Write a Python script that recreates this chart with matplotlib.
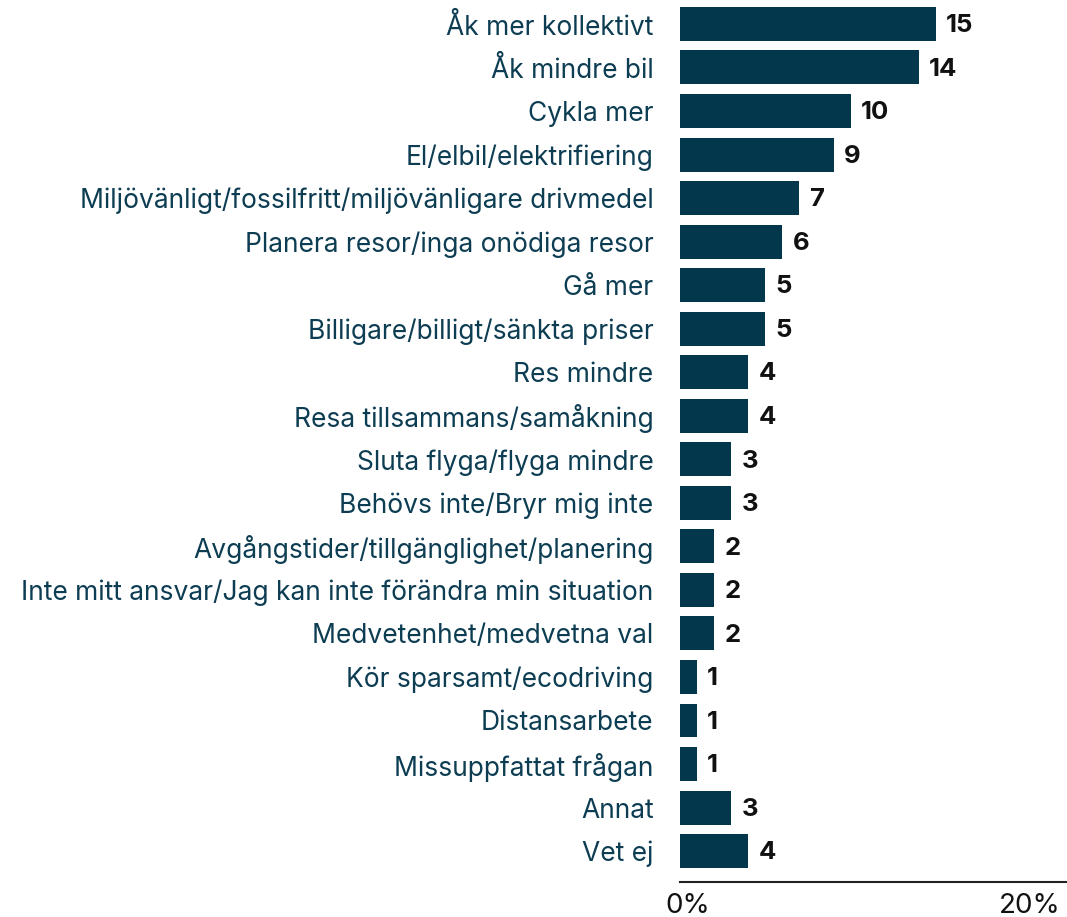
import matplotlib
matplotlib.use("Agg")
import matplotlib.pyplot as plt
from matplotlib.transforms import ScaledTranslation

categories = [
    "Åk mer kollektivt",
    "Åk mindre bil",
    "Cykla mer",
    "El/elbil/elektrifiering",
    "Miljövänligt/fossilfritt/miljövänligare drivmedel",
    "Planera resor/inga onödiga resor",
    "Gå mer",
    "Billigare/billigt/sänkta priser",
    "Res mindre",
    "Resa tillsammans/samåkning",
    "Sluta flyga/flyga mindre",
    "Behövs inte/Bryr mig inte",
    "Avgångstider/tillgänglighet/planering",
    "Inte mitt ansvar/Jag kan inte förändra min situation",
    "Medvetenhet/medvetna val",
    "Kör sparsamt/ecodriving",
    "Distansarbete",
    "Missuppfattat frågan",
    "Annat",
    "Vet ej",
]
values = [15, 14, 10, 9, 7, 6, 5, 5, 4, 4, 3, 3, 2, 2, 2, 1, 1, 1, 3, 4]
tick_values = [0, 20]
tick_labels = ["0%", "20%"]

BAR = "#03384c"
TEXT = "#0d3d52"

plt.rcParams["font.family"] = ["Inter", "DejaVu Sans"]

fig = plt.figure(figsize=(10.67, 9.17), dpi=100)
ax = fig.add_axes([680 / 1067, 35 / 917, 387 / 1067, 882 / 917])

ypos = list(range(len(categories)))
ax.barh(ypos, values, height=0.78, color=BAR)

for y, v in zip(ypos, values):
    ax.text(v + 0.6, y + 0.04, f"{v}", va="center", ha="left",
            fontsize=18.5, fontweight="bold", color="#111111")

ax.set_yticks(ypos)
ax.set_yticklabels(categories, fontsize=19, color=TEXT)
ax.tick_params(axis="y", length=0, pad=19)

ax.set_xticks(tick_values)
ax.set_xticklabels(tick_labels, fontsize=20, color="#111111")
ax.tick_params(axis="x", length=0, pad=8)
shift = ScaledTranslation(8 / 100, 0, fig.dpi_scale_trans)
for lbl in ax.get_xticklabels():
    lbl.set_transform(lbl.get_transform() + shift)

ax.set_xlim(0, 387 / 17.07)
ax.set_ylim(19.71, -0.55)

for s in ["top", "right", "left"]:
    ax.spines[s].set_visible(False)
ax.spines["bottom"].set_color("#222222")
ax.spines["bottom"].set_linewidth(1.5)

fig.savefig("out.png", dpi=100)
